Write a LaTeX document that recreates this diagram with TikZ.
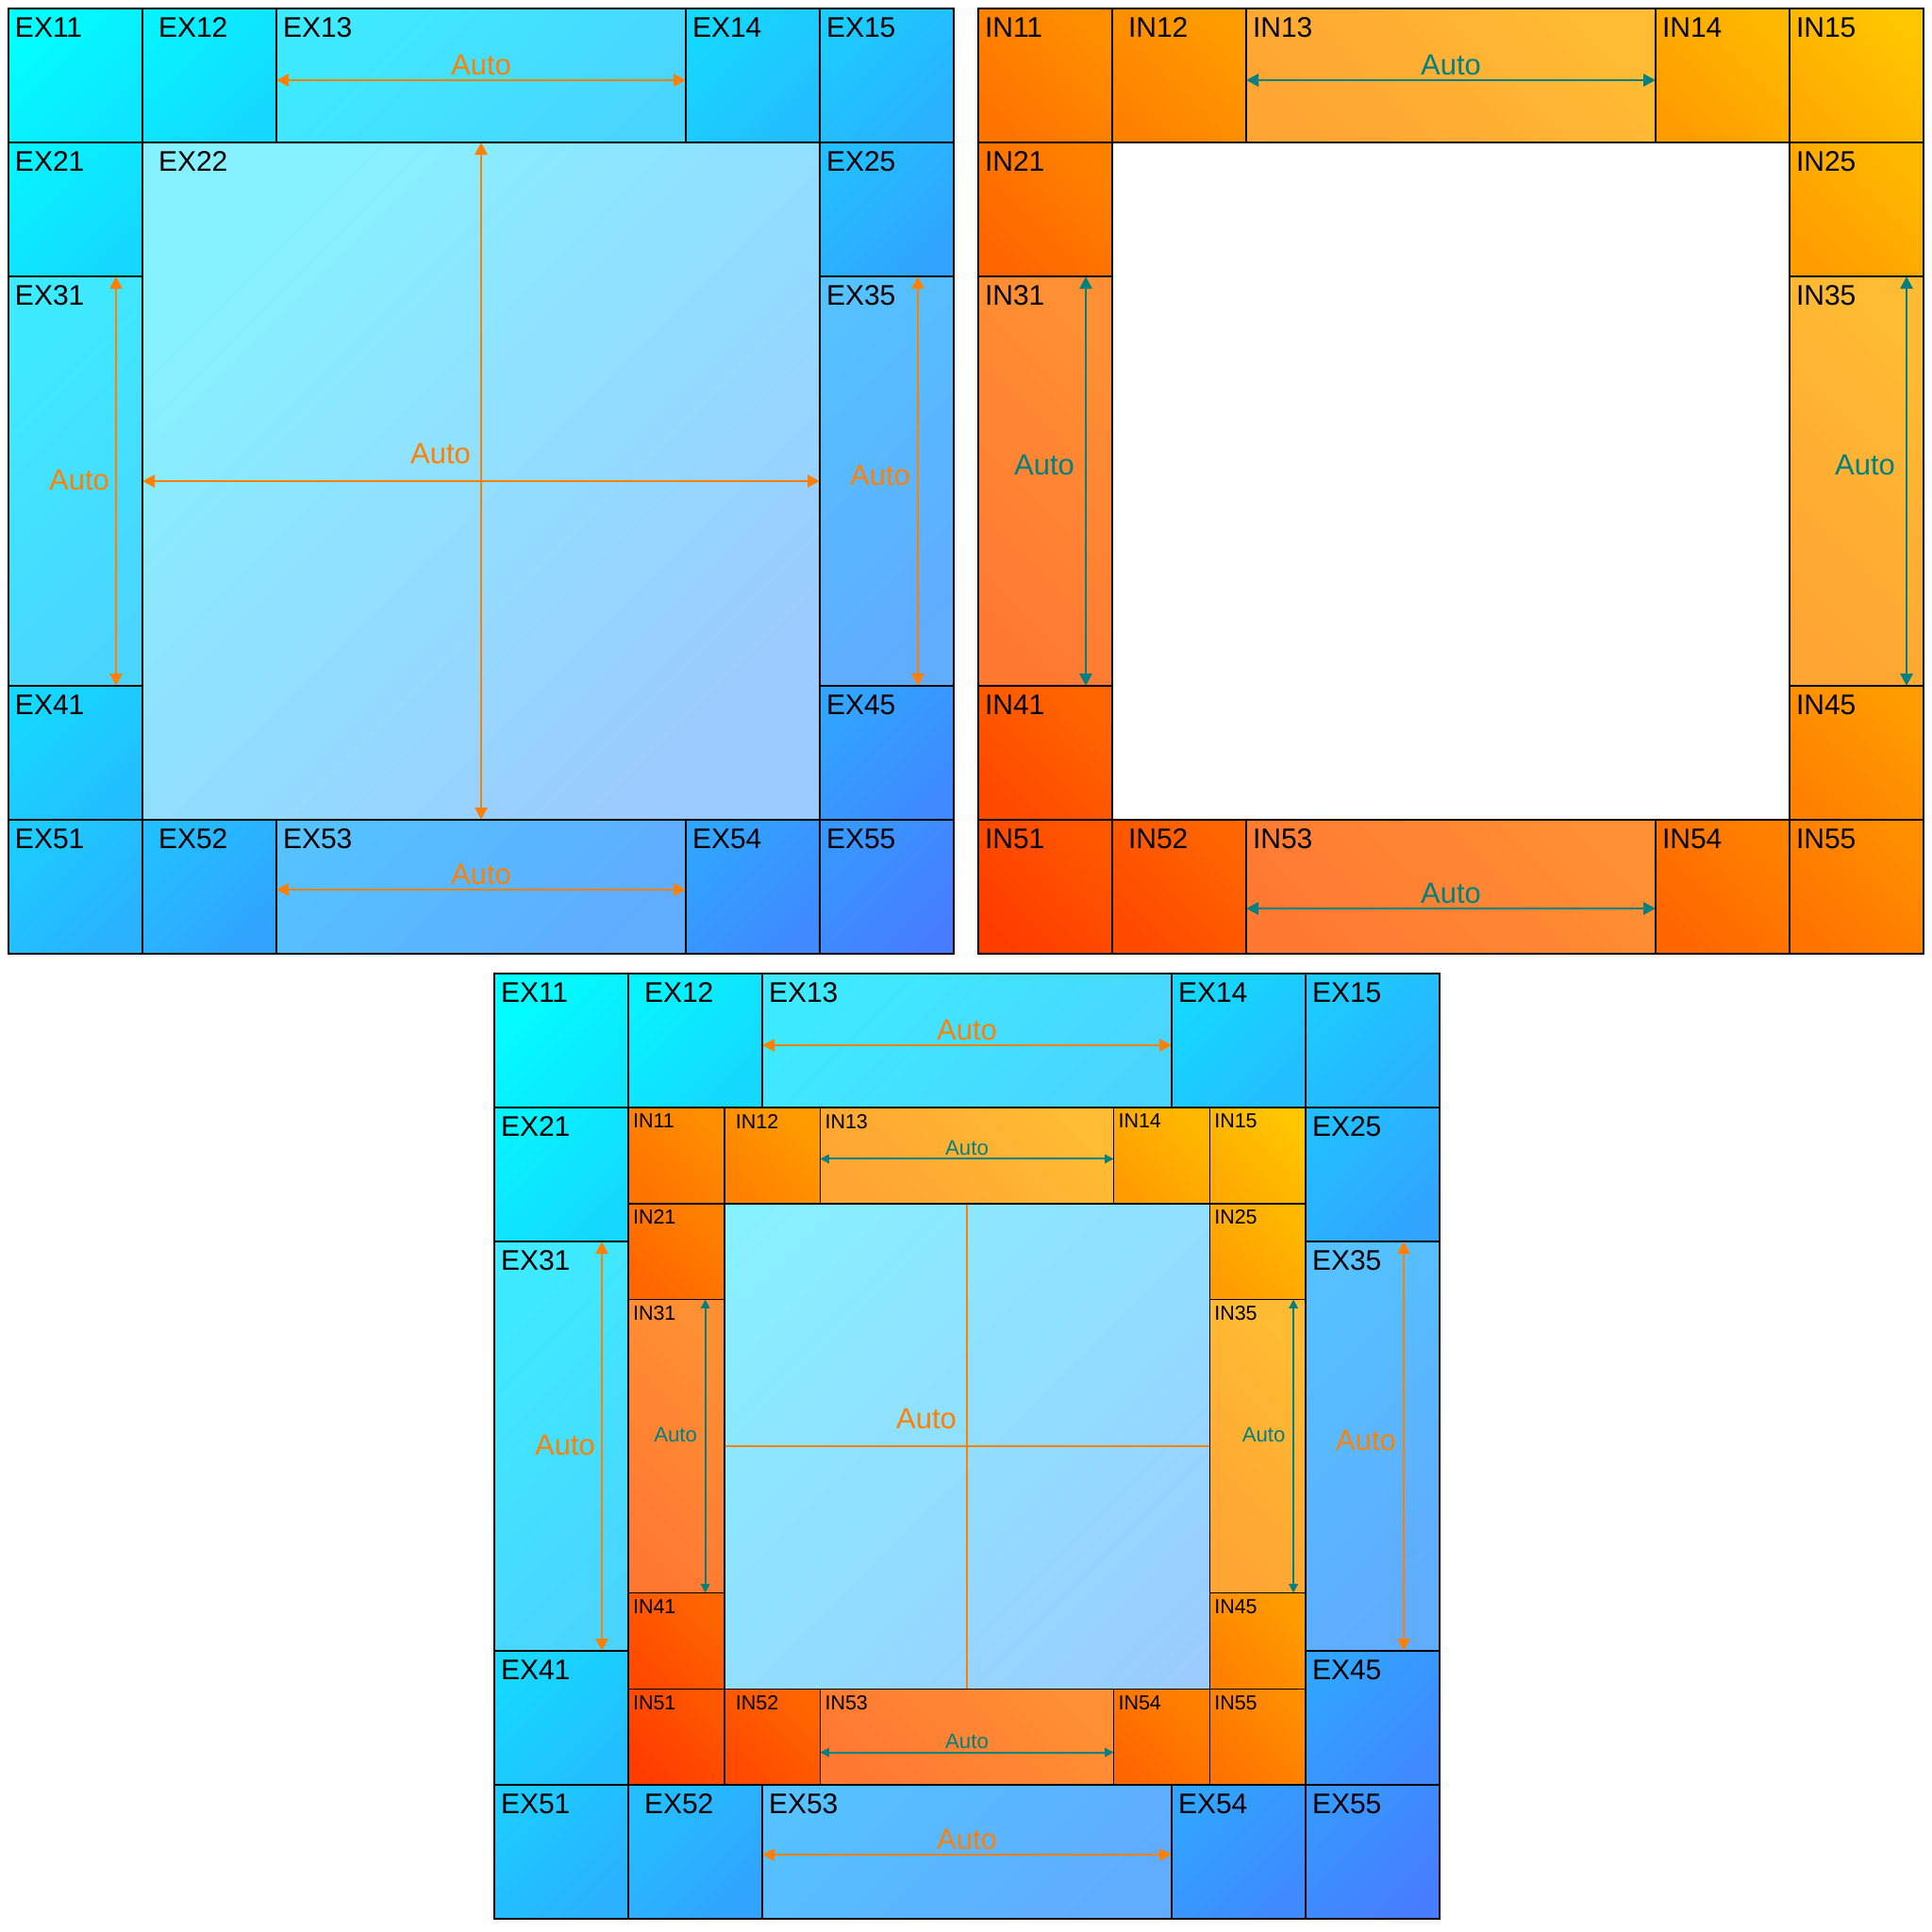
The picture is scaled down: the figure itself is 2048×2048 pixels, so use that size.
\documentclass[tikz,border=0pt]{standalone}
\usepackage{fontspec}
\setmainfont{Liberation Sans}
\usetikzlibrary{arrows.meta}
\definecolor{exA}{RGB}{0,255,255}
\definecolor{exB}{RGB}{70,125,255}
\definecolor{inA}{RGB}{255,60,0}
\definecolor{inB}{RGB}{255,198,0}
\definecolor{exArrow}{RGB}{255,128,0}
\definecolor{inArrow}{RGB}{0,128,128}
\def\labfont{\fontsize{30}{30}\selectfont}
\def\autofont{\fontsize{31}{31}\selectfont}
\def\blw{2}\def\alw{2.8}\def\atl{13}
\def\skipnm{0}
\tikzset{
  cellbox/.style={draw=black, line width=\blw pt, inner sep=0pt, outer sep=0pt, rectangle},
  lab/.style={inner sep=0pt, outer sep=0pt, text=black, font=\labfont},
  autolab/.style={inner sep=0pt, outer sep=0pt, font=\autofont},
  dimarr/.style={line width=\alw pt, <->, >={Triangle[length=\atl pt,width=\atl pt]}},
}
% name/i0/j0/i1/j1/topfrac/bottomfrac/lightness/labeloffset
\def\exlist{11/0/0/1/1/0/20/100/7, 12/1/0/2/1/10/30/100/17, 13/2/0/3/1/20/40/80/7, 14/3/0/4/1/30/50/100/7, 15/4/0/5/1/40/60/100/7, 21/0/1/1/2/10/30/100/7, 22/1/1/4/4/20/80/50/17, 25/4/1/5/2/50/70/100/7, 31/0/2/1/3/20/40/80/7, 35/4/2/5/3/60/80/80/7, 41/0/3/1/4/30/50/100/7, 45/4/3/5/4/70/90/100/7, 51/0/4/1/5/40/60/100/7, 52/1/4/2/5/50/70/100/17, 53/2/4/3/5/60/80/80/7, 54/3/4/4/5/70/90/100/7, 55/4/4/5/5/80/100/100/7}
\def\inlist{11/0/0/1/1/60/40/100/7, 12/1/0/2/1/70/50/100/17, 13/2/0/3/1/80/60/80/7, 14/3/0/4/1/90/70/100/7, 15/4/0/5/1/100/80/100/7, 21/0/1/1/2/50/30/100/7, 25/4/1/5/2/90/70/100/7, 31/0/2/1/3/40/20/80/7, 35/4/2/5/3/80/60/80/7, 41/0/3/1/4/30/10/100/7, 45/4/3/5/4/70/50/100/7, 51/0/4/1/5/20/0/100/7, 52/1/4/2/5/30/10/100/17, 53/2/4/3/5/40/20/80/7, 54/3/4/4/5/50/30/100/7, 55/4/4/5/5/60/40/100/7}
\newcommand{\drawcells}[8]{%
  \foreach \nm/\ia/\ja/\ib/\jb/\ft/\fb/\li/\lo in \celllist {%
    \pgfmathsetmacro\ta{{0,142,284,718,860,1002}[\ia]}%
    \pgfmathsetmacro\tb{{0,142,284,718,860,1002}[\ib]}%
    \pgfmathsetmacro\tc{{0,142,284,718,860,1002}[\ja]}%
    \pgfmathsetmacro\td{{0,142,284,718,860,1002}[\jb]}%
    \pgfmathsetmacro\xa{#3+#5*\ta}%
    \pgfmathsetmacro\xb{#3+#5*\tb}%
    \pgfmathsetmacro\ya{#4+#5*\tc}%
    \pgfmathsetmacro\yb{#4+#5*\td}%
    \pgfmathsetmacro\ww{\xb-\xa}%
    \pgfmathsetmacro\hh{\yb-\ya}%
    \pgfmathsetmacro\xl{\xa+\lo*#5}%
    \pgfmathsetmacro\yl{\ya+10*#5}%
    \node[cellbox, anchor=north west, minimum width=\ww pt, minimum height=\hh pt,
      top color=#7!\ft!#6!\li!white, bottom color=#7!\fb!#6!\li!white, shading angle=#8]
      (#1#2\nm) at (\xa,\ya) {};
    \ifnum\nm=\skipnm\relax\else
    \node[lab, anchor=north west] (#1L#2\nm) at (\xl,\yl) {#2\nm};
    \fi
  }%
}
\newcommand{\exarrows}[2]{%
  \pgfmathsetmacro\sc{#2}%
  \draw[dimarr, draw=exArrow] ([yshift={-5*\sc*1pt}]#1EX13.west) -- ([yshift={-5*\sc*1pt}]#1EX13.east);
  \node[autolab, text=exArrow] (#1A13) at ([yshift={11*\sc*1pt}]#1EX13.center) {Auto};
  \draw[dimarr, draw=exArrow] ([yshift={-3*\sc*1pt}]#1EX53.west) -- ([yshift={-3*\sc*1pt}]#1EX53.east);
  \node[autolab, text=exArrow] (#1A53) at ([yshift={13*\sc*1pt}]#1EX53.center) {Auto};
  \draw[dimarr, draw=exArrow] (#1EX22.north) -- (#1EX22.south);
  \draw[dimarr, draw=exArrow] (#1EX22.west) -- (#1EX22.east);
  \node[autolab, text=exArrow] (#1A22) at ([xshift={-43*\sc*1pt}, yshift={29*\sc*1pt}]#1EX22.center) {Auto};
  \draw[dimarr, draw=exArrow] ([xshift={43*\sc*1pt}]#1EX31.north) -- ([xshift={43*\sc*1pt}]#1EX31.south);
  \node[autolab, text=exArrow] (#1A31) at ([xshift={4*\sc*1pt}, yshift={1*\sc*1pt}]#1EX31.center) {Auto};
  \draw[dimarr, draw=exArrow] ([xshift={33*\sc*1pt}]#1EX35.north) -- ([xshift={33*\sc*1pt}]#1EX35.south);
  \node[autolab, text=exArrow] (#1A35) at ([xshift={-7*\sc*1pt}, yshift={6*\sc*1pt}]#1EX35.center) {Auto};
}
\newcommand{\inarrows}[2]{%
  \pgfmathsetmacro\sc{#2}%
  \draw[dimarr, draw=inArrow] ([yshift={-5*\sc*1pt}]#1IN13.west) -- ([yshift={-5*\sc*1pt}]#1IN13.east);
  \node[autolab, text=inArrow] (#1A13) at ([yshift={11*\sc*1pt}]#1IN13.center) {Auto};
  \draw[dimarr, draw=inArrow] ([yshift={-23*\sc*1pt}]#1IN53.west) -- ([yshift={-23*\sc*1pt}]#1IN53.east);
  \node[autolab, text=inArrow] (#1A53) at ([yshift={-7*\sc*1pt}]#1IN53.center) {Auto};
  \draw[dimarr, draw=inArrow] ([xshift={43*\sc*1pt}]#1IN31.north) -- ([xshift={43*\sc*1pt}]#1IN31.south);
  \node[autolab, text=inArrow] (#1A31) at ([xshift={-1*\sc*1pt}, yshift={17*\sc*1pt}]#1IN31.center) {Auto};
  \draw[dimarr, draw=inArrow] ([xshift={53*\sc*1pt}]#1IN35.north) -- ([xshift={53*\sc*1pt}]#1IN35.south);
  \node[autolab, text=inArrow] (#1A35) at ([xshift={9*\sc*1pt}, yshift={17*\sc*1pt}]#1IN35.center) {Auto};
}
\begin{document}
\begin{tikzpicture}[x=1pt,y=-1pt]
\fill[white] (0,0) rectangle (2048,2048);
\useasboundingbox (0,0) rectangle (2048,2048);
\let\celllist\exlist
\drawcells{a}{EX}{9}{9}{1}{exA}{exB}{45}
\exarrows{a}{1}
\let\celllist\inlist
\drawcells{b}{IN}{1037}{9}{1}{inA}{inB}{-45}
\inarrows{b}{1}
\let\celllist\exlist
\def\skipnm{22}%
\drawcells{c}{EX}{524}{1032}{1}{exA}{exB}{45}
\def\skipnm{0}%
\exarrows{c}{1}
\def\labfont{\fontsize{21.5}{21.5}\selectfont}%
\def\autofont{\fontsize{22.2}{22.2}\selectfont}%
\def\blw{1.5}\def\alw{2}\def\atl{9.3}%
\let\celllist\inlist
\drawcells{d}{IN}{666}{1174}{0.716567}{inA}{inB}{-45}
\inarrows{d}{0.716567}
\end{tikzpicture}
\end{document}
